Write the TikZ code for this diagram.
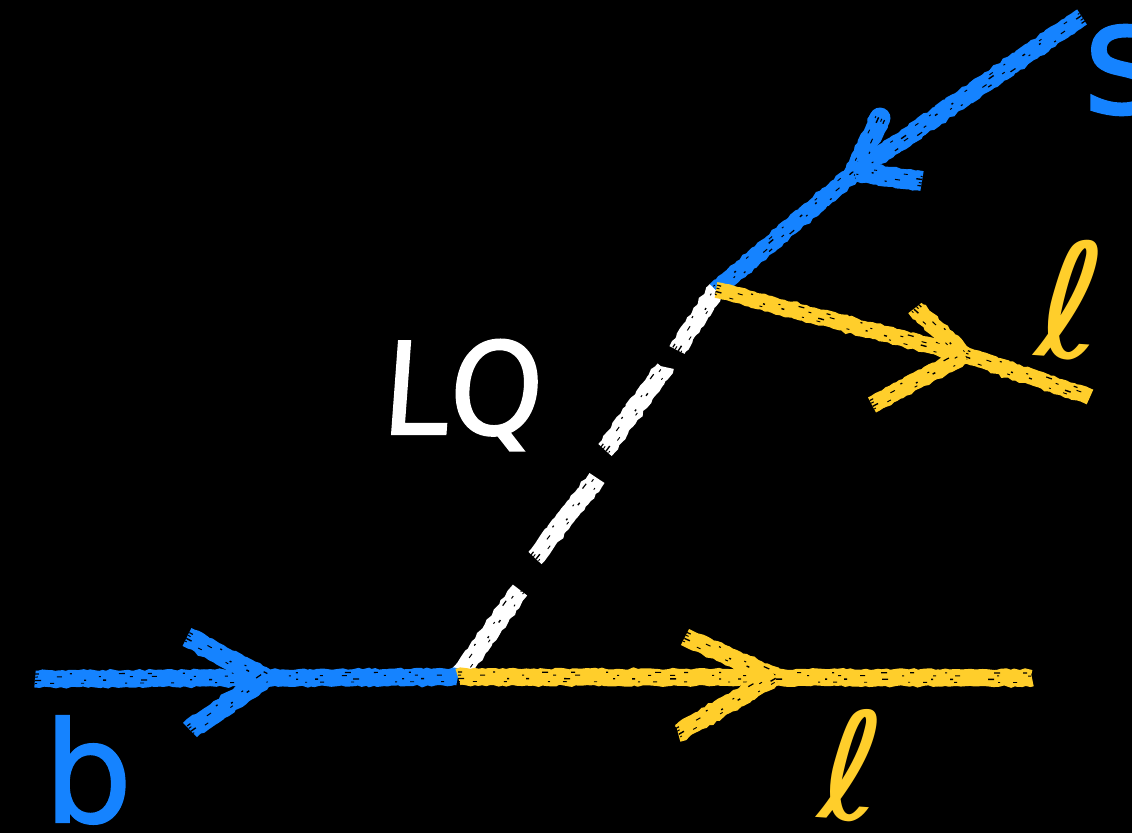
\documentclass[tikz,border=0pt]{standalone}
\usepackage{fontspec}
\setmainfont{DejaVu Sans}
\newfontfamily\chalkfont[FakeBold=1.2]{DejaVu Sans}
\usetikzlibrary{decorations.pathmorphing,calc}
\definecolor{chalkblue}{HTML}{1583FF}
\definecolor{chalkyellow}{HTML}{FFCE2B}
\definecolor{chalkwhite}{HTML}{FFFFFF}
\pgfmathsetseed{4242}
\tikzset{
  rough/.style={decorate,decoration={random steps,segment length=4pt,amplitude=1pt}},
  chalk/.style={rough},
  speckA/.style={black,line width=1.2pt,dash pattern=on 4pt off 31pt on 2pt off 47pt on 6pt off 23pt},
  speckB/.style={black,line width=1pt,dash pattern=on 3pt off 19pt on 5pt off 37pt on 2pt off 29pt},
  speckC/.style={black,line width=1.4pt,dash pattern=on 6pt off 43pt on 2pt off 17pt on 3pt off 35pt},
  speckD/.style={black,line width=.9pt,dash pattern=on 2pt off 13pt on 4pt off 27pt on 3pt off 41pt},
  letter/.style={inner sep=0pt,outer sep=0pt},
}
% \chalkline{colour}{width}{from}{to}
\newcommand{\chalkline}[4]{%
  \draw[chalk,#1,line width=#2pt] (#3) -- (#4);
  \draw[speckA] ($(#3)!5pt!90:(#4)$) -- ($(#4)!5pt!-90:(#3)$);
  \draw[speckB] ($(#3)!2pt!90:(#4)$) -- ($(#4)!2pt!-90:(#3)$);
  \draw[speckC] ($(#3)!1.5pt!-90:(#4)$) -- ($(#4)!1.5pt!90:(#3)$);
  \draw[speckD] ($(#3)!4.5pt!-90:(#4)$) -- ($(#4)!4.5pt!90:(#3)$);
}
\begin{document}
\begin{tikzpicture}[x=1pt,y=-1pt]
\path[fill=black] (0,0) rectangle (1132,833);
\useasboundingbox (0,0) rectangle (1132,833);
\clip (0,0) rectangle (1132,833);
% vertices and free ends
\coordinate (bstart) at (35,679);
\coordinate (vlow) at (458,677);
\coordinate (lend) at (1032,678);
\coordinate (vhigh) at (716,290);
\coordinate (sstart) at (1082,17);
\coordinate (lend2) at (1090,397);
% dashed leptoquark line
\coordinate (d1a) at (520,590); \coordinate (d2a) at (535,558);
\coordinate (d2b) at (597,478); \coordinate (d3a) at (605,450);
\coordinate (d3b) at (665,367); \coordinate (d4a) at (677,350);
\chalkline{chalkwhite}{18}{vlow}{d1a}
\chalkline{chalkwhite}{18}{d2a}{d2b}
\chalkline{chalkwhite}{18}{d3a}{d3b}
\chalkline{chalkwhite}{17}{d4a}{vhigh}
% incoming b
\coordinate (bh) at (265,678);
\coordinate (bb1) at (187,637);
\coordinate (bb2) at (190,730);
\chalkline{chalkblue}{17}{bstart}{vlow}
\chalkline{chalkblue}{20}{bb1}{bh}
\chalkline{chalkblue}{20}{bb2}{bh}
% outgoing lepton, bottom
\coordinate (lh) at (775,677);
\coordinate (lb1) at (685,637);
\coordinate (lb2) at (678,733);
\chalkline{chalkyellow}{17}{vlow}{lend}
\chalkline{chalkyellow}{18}{lb1}{lh}
\chalkline{chalkyellow}{18}{lb2}{lh}
% incoming s line
\coordinate (sh) at (855,172);
\coordinate (sb1) at (880,118);
\coordinate (sb2) at (922,181);
\chalkline{chalkblue}{18}{sstart}{sh}
\chalkline{chalkblue}{17}{sh}{vhigh}
\draw[chalkblue,line width=21pt,line cap=round] (sb1) -- ($(sb1)!.08!(sh)$);
\chalkline{chalkblue}{20}{sb1}{sh}
\chalkline{chalkblue}{20}{sb2}{sh}
% outgoing lepton, top
\coordinate (th) at (965,355);
\coordinate (tb1) at (915,308);
\coordinate (tb2) at (872,405);
\chalkline{chalkyellow}{16}{vhigh}{th}
\chalkline{chalkyellow}{16}{th}{lend2}
\chalkline{chalkyellow}{17}{tb1}{th}
\chalkline{chalkyellow}{17}{tb2}{th}
% labels
\node[letter,white,anchor=center,xscale=.93,xslant=.08] (lq) at (463,395) {\chalkfont\fontsize{128}{128}\selectfont LQ};
\node[letter,chalkblue,anchor=center] (blabel) at (88,770) {\chalkfont\fontsize{140}{140}\selectfont b};
\node[letter,chalkblue,anchor=center] (slabel) at (1124,70) {\chalkfont\fontsize{158}{158}\selectfont s};
\node[letter,chalkyellow,anchor=center,rotate=-4] (l1) at (1072,300) {\fontsize{160}{160}\selectfont ℓ};
\node[letter,chalkyellow,anchor=center,rotate=-4] (l2) at (852,765) {\fontsize{150}{150}\selectfont ℓ};
\end{tikzpicture}
\end{document}
